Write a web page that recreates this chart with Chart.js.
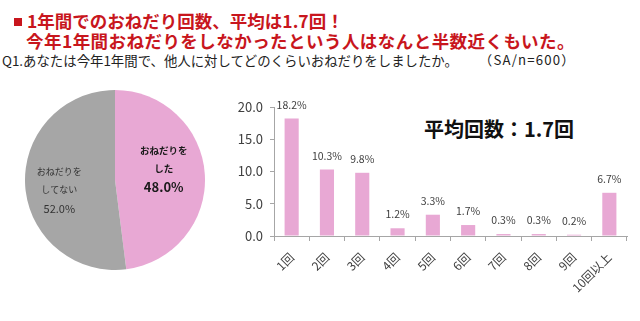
<!DOCTYPE html>
<html>
<head>
<meta charset="utf-8">
<script src="https://cdn.jsdelivr.net/npm/chart.js@4.4.1/dist/chart.umd.min.js"></script>
<style>
body{margin:0;width:640px;height:321px;overflow:hidden;background:#fff;font-family:"Noto Sans CJK JP",sans-serif;position:relative;}
.t{position:absolute;white-space:nowrap;}
.red{color:#c8161d;font-weight:bold;font-size:17.5px;line-height:18px;}
#sq{position:absolute;left:14px;top:18px;width:8px;height:8px;background:#c8161d;}
.q{top:52px;font-size:13.4px;line-height:16px;color:#222;}
#avg{left:424px;top:118px;font-size:20px;font-weight:bold;line-height:22px;color:#111;}
#pieWrap{position:absolute;left:25px;top:90px;width:180px;height:180px;}
#barWrap{position:absolute;left:220px;top:85px;width:420px;height:236px;}
</style>
</head>
<body>

<div id="sq"></div>
<div class="t red" style="left:27px;top:12px;">1年間でのおねだり回数、平均は1.7回！</div>
<div class="t red" style="left:26px;top:32px;letter-spacing:0.45px;">今年1年間おねだりをしなかったという人はなんと半数近くもいた。</div>
<div class="t q" style="left:2px;">Q1.あなたは今年1年間で、他人に対してどのくらいおねだりをしましたか。</div>
<div class="t q" style="left:479px;font-size:13.2px;letter-spacing:1.2px;">（SA/n=600）</div>
<div class="t" id="avg">平均回数：1.7回</div>

<div id="pieWrap"><canvas id="pieChart"></canvas></div>
<div id="barWrap"><canvas id="barChart"></canvas></div>

<script>
const pieLabels = [["おねだりを","した"],["おねだりを","してない"]];
const pieValues = [48.0, 52.0];
const pieColors = ["#e8a8d4","#a6a6a6"];

const barLabels = ["1回","2回","3回","4回","5回","6回","7回","8回","9回","10回以上"];
const barValues = [18.2, 10.3, 9.8, 1.2, 3.3, 1.7, 0.3, 0.3, 0.2, 6.7];

const JP = '"Noto Sans CJK JP", sans-serif';

// labels inside the pie slices
const pieText = {
id:"pieText",
afterDatasetsDraw(chart){
const c = chart.ctx;
const arcs = chart.getDatasetMeta(0).data;
const style = [
{bold:true, size:9.5, pct:13, dx:2, dy:-8, color:"#1a1a1a"},
{bold:false, size:9, pct:11, dx:-9, dy:8, color:"#333"}
];
arcs.forEach((arc,i)=>{
const mid = (arc.startAngle+arc.endAngle)/2;
const r = arc.outerRadius*0.52;
const x = arc.x+Math.cos(mid)*r+style[i].dx;
const y = arc.y+Math.sin(mid)*r+style[i].dy;
const w = style[i].bold ? "bold " : "";
c.save();
c.fillStyle = style[i].color;
c.textAlign = "center";
c.textBaseline = "middle";
c.font = w+style[i].size+"px "+JP;
c.fillText(pieLabels[i][0], x, y-19);
c.fillText(pieLabels[i][1], x, y-1);
c.font = w+style[i].pct+"px "+JP;
c.fillText(pieValues[i].toFixed(1)+"%", x, y+18);
c.restore();
});
}
};

new Chart(document.getElementById("pieChart"),{
type:"pie",
data:{
labels:pieLabels.map(l=>l.join("")),
datasets:[{data:pieValues, backgroundColor:pieColors, borderWidth:0}]
},
options:{
responsive:true,
maintainAspectRatio:false,
animation:false,
plugins:{legend:{display:false},tooltip:{enabled:false}}
},
plugins:[pieText]
});

// value labels above bars
const barText = {
id:"barText",
afterDatasetsDraw(chart){
const c = chart.ctx;
c.save();
c.fillStyle = "#404040";
c.textAlign = "center";
c.textBaseline = "middle";
c.font = "10.5px "+JP;
chart.getDatasetMeta(0).data.forEach((bar,i)=>{
c.fillText(barValues[i].toFixed(1)+"%", bar.x, bar.y-14);
});
c.restore();
}
};

new Chart(document.getElementById("barChart"),{
type:"bar",
data:{
labels:barLabels,
datasets:[{data:barValues, backgroundColor:"#e8a8d4", barPercentage:0.4, categoryPercentage:1}]
},
options:{
responsive:true,
maintainAspectRatio:false,
animation:false,
layout:{padding:{top:22, right:13}},
plugins:{legend:{display:false},tooltip:{enabled:false}},
scales:{
x:{
grid:{offset:true, drawOnChartArea:false, tickLength:5, color:"#a6a6a6"},
border:{color:"#a6a6a6"},
ticks:{maxRotation:45, minRotation:45, autoSkip:false, padding:9, color:"#404040", font:{family:JP, size:12}},
afterFit(s){ s.height = 85; }
},
y:{
min:0, max:20,
grid:{drawOnChartArea:false, tickLength:4, color:"#a6a6a6"},
border:{color:"#a6a6a6"},
ticks:{stepSize:5, padding:7, color:"#404040", font:{family:JP, size:13}, callback:v=>v.toFixed(1)},
afterFit(s){ s.width = 54; }
}
}
},
plugins:[barText]
});
</script>
</body>
</html>
